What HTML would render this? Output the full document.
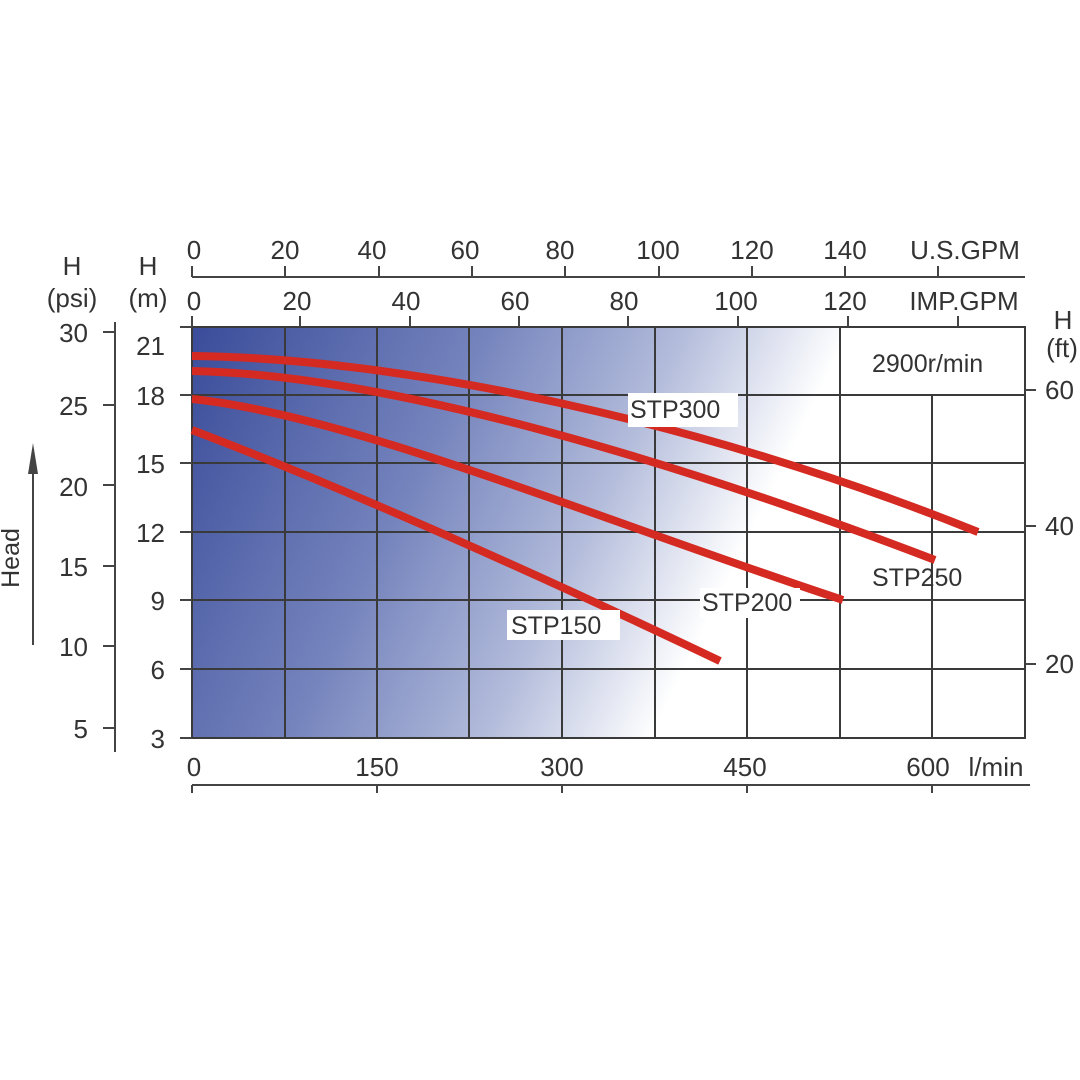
<!DOCTYPE html>
<html><head><meta charset="utf-8"><style>
html,body{margin:0;padding:0;background:#fff}
svg{display:block}
text{font-family:"Liberation Sans",sans-serif;fill:#333}
</style></head><body>
<svg width="1080" height="1080" viewBox="0 0 1080 1080">
<defs>
<linearGradient id="g" gradientUnits="userSpaceOnUse" x1="192" y1="327" x2="725" y2="587">
<stop offset="0" stop-color="#3a4c9a"/>
<stop offset="0.45" stop-color="#7584bd"/>
<stop offset="0.75" stop-color="#b3bcdb"/>
<stop offset="1" stop-color="#ffffff"/>
</linearGradient>
</defs>
<rect x="192" y="327" width="833" height="411" fill="url(#g)"/>
<rect x="840" y="327" width="185" height="68" fill="#fff"/>
<g stroke="#3a3a3a" stroke-width="2" fill="none">
<rect x="192" y="327" width="833" height="411"/>
<path d="M192 395H1025M192 463H1025M192 532H1025M192 600H1025M192 669H1025"/>
<path d="M285 327V738M377 327V738M469 327V738M562 327V738M655 327V738M747 327V738M840 327V738M932 395V738"/>
</g>
<g stroke="#d42a22" stroke-width="8" fill="none" stroke-linecap="butt">
<path d="M192,356 C400,358 700,420 978,532"/>
<path d="M192,371 C400,375 700,470 935,560"/>
<path d="M192,399 C350,415 600,520 843,600"/>
<path d="M192,430 C350,490 550,580 720,661"/>
</g>
<g font-size="25">
<rect x="628" y="393" width="110" height="34" fill="#fff"/>
<text x="630" y="418">STP300</text>
<text x="872" y="586">STP250</text>
<rect x="700" y="588" width="100" height="30" fill="#fff"/>
<text x="702" y="611">STP200</text>
<rect x="507" y="610" width="113" height="30" fill="#fff"/>
<text x="511" y="634">STP150</text>
<text x="872" y="372">2900r/min</text>
</g>
<g stroke="#444" stroke-width="2" fill="none">
<path d="M192 277H1025"/>
<path d="M192 277V266M285 277V266M379 277V266M472 277V266M565 277V266M659 277V266M752 277V266M845 277V266M938 277V266"/>
<path d="M192 327V316M300 327V316M410 327V316M519 327V316M628 327V316M738 327V316M848 327V316M958 327V316"/>
<path d="M115 322V752M103 332H115M103 405H115M103 485H115M103 566H115M103 646H115M103 728H115"/>
<path d="M180 327H192M180 395H192M180 463H192M180 532H192M180 600H192M180 669H192M180 738H192"/>
<path d="M1025 390H1036M1025 526H1036M1025 664H1036"/>
<path d="M192 785H1030M192 785V793M377 785V793M562 785V793M747 785V793M932 785V793"/>
<path d="M33 470V645"/>
</g>
<polygon points="33,443 28,474 38,474" fill="#444"/>
<g font-size="26" text-anchor="middle">
<text x="194" y="259">0</text><text x="285" y="259">20</text><text x="372" y="259">40</text><text x="465" y="259">60</text><text x="560" y="259">80</text><text x="658" y="259">100</text><text x="752" y="259">120</text><text x="845" y="259">140</text>
<text x="965" y="259">U.S.GPM</text>
<text x="194" y="310">0</text><text x="297" y="310">20</text><text x="406" y="310">40</text><text x="515" y="310">60</text><text x="624" y="310">80</text><text x="736" y="310">100</text><text x="845" y="310">120</text>
<text x="964" y="310">IMP.GPM</text>
<text x="72" y="275">H</text><text x="72" y="307">(psi)</text>
<text x="148" y="275">H</text><text x="148" y="307">(m)</text>
<text x="1063" y="329">H</text><text x="1062" y="357">(ft)</text>
<text x="194" y="776">0</text><text x="377" y="776">150</text><text x="562" y="776">300</text><text x="745" y="776">450</text><text x="928" y="776">600</text>
<text x="996" y="776">l/min</text>
</g>
<g font-size="26" text-anchor="end">
<text x="88" y="342">30</text><text x="88" y="415">25</text><text x="88" y="496">20</text><text x="88" y="576">15</text><text x="88" y="656">10</text><text x="88" y="738">5</text>
<text x="165" y="355">21</text><text x="165" y="405">18</text><text x="165" y="473">15</text><text x="165" y="542">12</text><text x="165" y="610">9</text><text x="165" y="679">6</text><text x="165" y="748">3</text>
</g>
<g font-size="26">
<text x="1045" y="399">60</text><text x="1045" y="535">40</text><text x="1045" y="673">20</text>
</g>
<text x="0" y="0" font-size="25" text-anchor="middle" transform="translate(19,558) rotate(-90)">Head</text>
</svg>
</body></html>
